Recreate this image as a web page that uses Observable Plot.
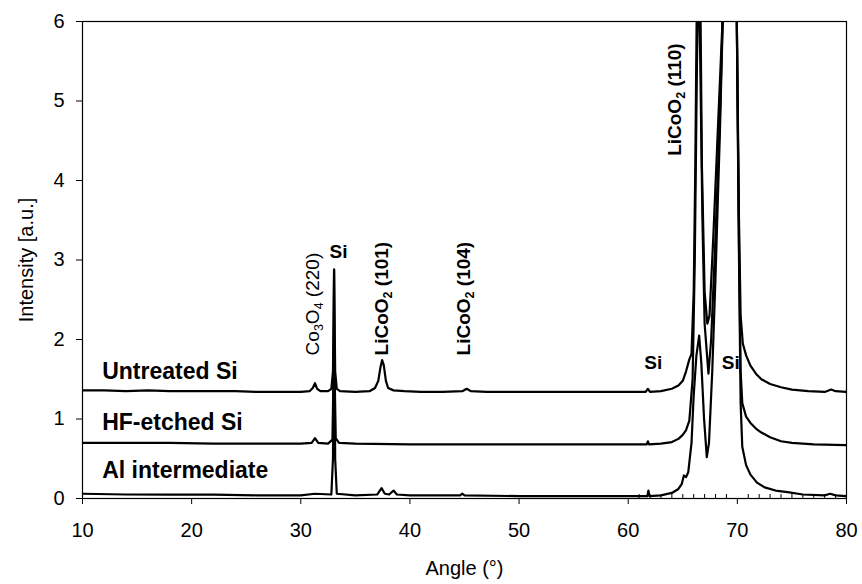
<!DOCTYPE html>
<html>
<head>
<meta charset="utf-8">
<script src="https://cdn.jsdelivr.net/npm/d3@7"></script>
<script src="https://cdn.jsdelivr.net/npm/@observablehq/plot@0.6"></script>
<style>
  html, body { margin: 0; padding: 0; background: #fff; }
</style>
</head>
<body>
<div id="chart"></div>
<script>
// ---- Data (angle in degrees, intensity in a.u.) ----
const untreated = [
  [10,1.36],[12,1.36],[14,1.35],[16,1.36],[18,1.35],[20,1.35],[22,1.35],[24,1.35],[26,1.34],[28,1.34],
  [30,1.34],[30.8,1.35],[31.1,1.39],[31.3,1.45],[31.5,1.38],[31.8,1.35],[32.5,1.35],[32.8,1.38],
  [32.95,1.6],[33.05,2.88],[33.15,1.6],[33.3,1.38],[33.6,1.35],[35,1.34],[36.3,1.35],[36.8,1.39],
  [37.1,1.48],[37.3,1.65],[37.45,1.74],[37.6,1.68],[37.8,1.48],[38.0,1.39],[38.5,1.36],[39.5,1.35],
  [41,1.34],[43,1.34],[44.8,1.35],[45.2,1.38],[45.6,1.35],[47,1.34],[50,1.34],[53,1.34],[56,1.34],
  [59,1.34],[61.6,1.34],[61.8,1.38],[62.0,1.34],[63,1.35],[64,1.38],[64.6,1.42],[65.0,1.48],
  [65.3,1.6],[65.6,1.75],[65.8,1.82],[66.0,2.6],[66.15,4.2],[66.3,6.5],[66.45,8],[66.6,6.5],
  [66.75,4.2],[67.0,2.6],[67.25,2.2],[67.45,2.3],[67.8,3.3],[68.2,4.6],[68.7,6.2],[69.4,9],
  [69.95,6],[70.15,3.5],[70.3,2.3],[70.5,1.95],[70.8,1.8],[71.2,1.67],[71.7,1.57],[72.2,1.5],
  [73,1.44],[74,1.4],[75,1.37],[76.5,1.35],[78,1.34],[78.6,1.37],[79,1.35],[80,1.34]
];
const hfEtched = [
  [10,0.7],[14,0.7],[18,0.7],[22,0.69],[26,0.69],[30,0.69],[31.0,0.7],[31.3,0.76],[31.6,0.7],
  [32.5,0.69],[32.9,0.74],[33.05,2.0],[33.2,0.76],[33.5,0.7],[35,0.69],[40,0.68],[45,0.68],
  [50,0.68],[55,0.68],[60,0.68],[61.7,0.68],[61.8,0.72],[61.9,0.68],[63,0.69],[64,0.71],
  [64.6,0.75],[65.0,0.8],[65.3,0.86],[65.6,0.98],[65.9,1.5],[66.1,3.0],[66.3,5.5],[66.45,6.8],
  [66.6,5.5],[66.8,3.5],[67.0,2.2],[67.35,1.57],[67.6,2.0],[68.0,3.3],[68.4,4.8],[68.75,6.5],
  [69.4,9],[69.95,6],[70.15,3.2],[70.3,1.6],[70.45,1.2],[70.8,1.03],[71.2,0.95],[71.7,0.88],
  [72.2,0.83],[73,0.77],[74,0.72],[75,0.7],[77,0.68],[80,0.67]
];
const alIntermediate = [
  [10,0.06],[14,0.05],[18,0.05],[22,0.05],[26,0.04],[30,0.04],[31.3,0.06],[32.8,0.05],[32.95,0.5],
  [33.05,2.88],[33.15,0.5],[33.3,0.06],[35,0.04],[37.0,0.05],[37.4,0.13],[37.7,0.06],[38.1,0.05],
  [38.5,0.1],[38.8,0.05],[40,0.04],[44.6,0.04],[44.8,0.06],[45,0.04],[50,0.03],[55,0.03],[60,0.03],
  [61.75,0.03],[61.85,0.1],[61.95,0.03],[63,0.04],[64,0.07],[64.6,0.12],[64.9,0.18],[65.1,0.29],
  [65.3,0.27],[65.5,0.33],[65.8,0.7],[66.0,1.3],[66.25,1.8],[66.5,2.05],[66.7,1.7],[66.95,1.0],
  [67.2,0.52],[67.4,0.7],[67.7,1.6],[68.0,2.8],[68.4,4.6],[68.75,6.5],[69.4,9],[69.95,6],
  [70.15,3],[70.3,1.2],[70.45,0.65],[70.8,0.42],[71.2,0.3],[71.8,0.2],[72.5,0.14],[73.5,0.1],
  [74.6,0.08],[76,0.05],[78,0.04],[78.5,0.06],[79,0.04],[80,0.03]
];

const seriesLabels = [
  {text: "Untreated Si", x: 11.8, y: 1.6},
  {text: "HF-etched Si", x: 11.8, y: 0.96},
  {text: "Al intermediate", x: 11.8, y: 0.35}
];
const peakLabels = [
  {text: "Co₃O₄ (220)", x: 31.15, y: 1.8, bold: false},
  {text: "LiCoO₂ (101)", x: 37.47, y: 1.8, bold: true},
  {text: "LiCoO₂ (104)", x: 44.98, y: 1.8, bold: true},
  {text: "LiCoO₂ (110)", x: 64.3, y: 4.31, bold: true}
];
const siLabels = [
  {text: "Si", x: 33.45, y: 3.1},
  {text: "Si", x: 62.3, y: 1.71},
  {text: "Si", x: 69.4, y: 1.71}
];
const xTicks = [10, 20, 30, 40, 50, 60, 70, 80];
const yTicks = [0, 1, 2, 3, 4, 5, 6];
const minorTicks = [61,62,63,64,65,66,67,68,69,71,72,73,74,75,76,77,78,79];

const lineOpts = {x: d => d[0], y: d => d[1], stroke: "black", strokeWidth: 2.2, clip: true, curve: "linear"};

const svg = Plot.plot({
  width: 862,
  height: 584,
  marginLeft: 82,
  marginRight: 16,
  marginTop: 21,
  marginBottom: 86,
  style: {fontFamily: "'Liberation Sans', Arial, sans-serif", fontSize: "20px", background: "white", color: "black", overflow: "visible"},
  x: {domain: [10, 80], ticks: xTicks, tickSize: 6, tickPadding: 18, tickFormat: d3.format("d"), label: null},
  y: {domain: [0, 6], ticks: yTicks, tickSize: 6, tickPadding: 12, tickFormat: d3.format("d"), label: null},
  marks: [
    Plot.ruleX(minorTicks, {x: d => d, y1: 0, y2: 0.05, stroke: "black", strokeWidth: 1}),
    Plot.line(untreated, lineOpts),
    Plot.line(hfEtched, lineOpts),
    Plot.line(alIntermediate, lineOpts),
    Plot.frame({stroke: "black", strokeWidth: 1.2}),
    Plot.text(seriesLabels, {x: "x", y: "y", text: "text", textAnchor: "start", lineAnchor: "middle", fontWeight: "bold", fontSize: 23, fill: "black"}),
    Plot.text(peakLabels.filter(d => d.bold), {x: "x", y: "y", text: "text", rotate: -90, textAnchor: "start", lineAnchor: "middle", fontWeight: "bold", fontSize: 19, fill: "black"}),
    Plot.text(peakLabels.filter(d => !d.bold), {x: "x", y: "y", text: "text", rotate: -90, textAnchor: "start", lineAnchor: "middle", fontWeight: "normal", fontSize: 19, fill: "black"}),
    Plot.text(siLabels, {x: "x", y: "y", text: "text", textAnchor: "middle", lineAnchor: "middle", fontWeight: "bold", fontSize: 19, fill: "black"}),
    Plot.text(["Angle (°)"], {frameAnchor: "bottom", dy: 70, lineAnchor: "middle", fontSize: 20, fill: "black"}),
    Plot.text(["Intensity [a.u.]"], {frameAnchor: "left", dx: -56, rotate: -90, textAnchor: "middle", lineAnchor: "middle", fontSize: 20, fill: "black"})
  ]
});

// Render Unicode subscript digits as real subscripts (smaller, lowered)
const subDigits = {"₀":"0","₁":"1","₂":"2","₃":"3","₄":"4","₅":"5","₆":"6","₇":"7","₈":"8","₉":"9"};
const NS = "http://www.w3.org/2000/svg";
svg.querySelectorAll("text").forEach(t => {
  const s = t.textContent;
  if (!/[₀-₉]/.test(s)) return;
  const runs = [];
  for (const ch of s) {
    const isSub = ch in subDigits;
    const c = isSub ? subDigits[ch] : ch;
    if (runs.length && runs[runs.length - 1].sub === isSub) runs[runs.length - 1].text += c;
    else runs.push({sub: isSub, text: c});
  }
  while (t.firstChild) t.removeChild(t.firstChild);
  let prevSub = false;
  for (const r of runs) {
    const ts = document.createElementNS(NS, "tspan");
    if (r.sub) { ts.setAttribute("font-size", "12.5"); ts.setAttribute("dy", "4"); }
    else if (prevSub) ts.setAttribute("dy", "-4");
    ts.textContent = r.text;
    t.appendChild(ts);
    prevSub = r.sub;
  }
});

document.getElementById("chart").appendChild(svg);
</script>
</body>
</html>
